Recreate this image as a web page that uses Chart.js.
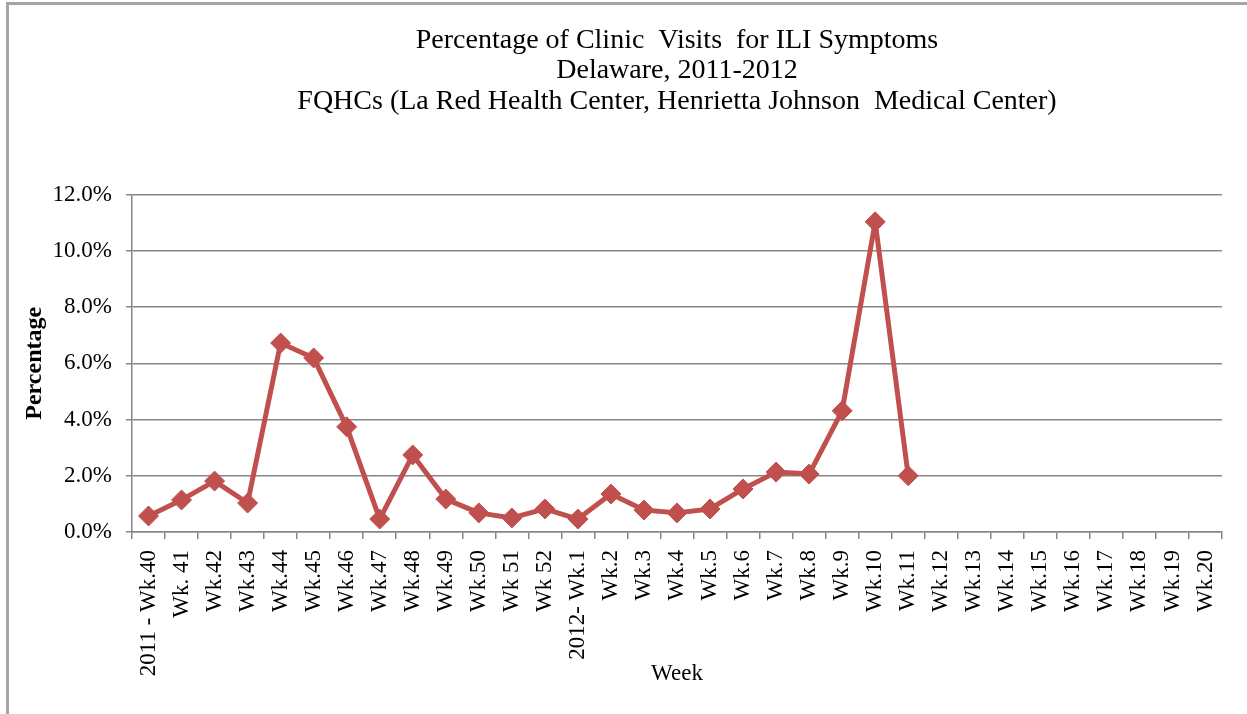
<!DOCTYPE html>
<html>
<head>
<meta charset="utf-8">
<script src="https://cdn.jsdelivr.net/npm/chart.js@4/dist/chart.umd.min.js"></script>
<style>
  html, body { margin: 0; padding: 0; background: #fff; overflow: hidden; }
  #frame {
    position: absolute; left: 6px; top: 2px; width: 1400px; height: 900px;
    border: 3px solid #a4a4a4; box-sizing: border-box;
  }
  #wrap { position: absolute; left: 0; top: 0; width: 1247px; height: 714px; }
</style>
</head>
<body>
<div id="frame"></div>
<div id="wrap"><canvas id="ili-chart"></canvas></div>
<script>
const weeks = [
  '2011 - Wk.40', 'Wk. 41', 'Wk.42', 'Wk.43', 'Wk.44', 'Wk.45', 'Wk.46', 'Wk.47',
  'Wk.48', 'Wk.49', 'Wk.50', 'Wk 51', 'Wk 52', '2012- Wk.1', 'Wk.2', 'Wk.3',
  'Wk.4', 'Wk.5', 'Wk.6', 'Wk.7', 'Wk.8', 'Wk.9', 'Wk.10', 'Wk.11',
  'Wk.12', 'Wk.13', 'Wk.14', 'Wk.15', 'Wk.16', 'Wk.17', 'Wk.18', 'Wk.19', 'Wk.20'
];

// percent of clinic visits, weeks 12-20 have no data yet
const iliPercent = [
  0.57, 1.14, 1.81, 1.03, 6.72, 6.19, 3.74, 0.46,
  2.74, 1.17, 0.68, 0.50, 0.82, 0.46, 1.35, 0.78,
  0.68, 0.82, 1.53, 2.13, 2.06, 4.31, 11.03, 2.00,
  null, null, null, null, null, null, null, null, null
];

const titleLines = [
  'Percentage of Clinic  Visits  for ILI Symptoms',
  'Delaware, 2011-2012',
  'FQHCs (La Red Health Center, Henrietta Johnson  Medical Center)'
];

const yTicks = { min: 0, max: 12, step: 2 };

const serif = "'Liberation Serif', 'Times New Roman', serif";
const gridGray = '#868686';
const lineRed = '#c0504d';

const ctx = document.getElementById('ili-chart').getContext('2d');

new Chart(ctx, {
  type: 'line',
  data: {
    labels: weeks,
    datasets: [
      {
        label: 'ILI %',
        data: iliPercent,
        borderColor: lineRed,
        backgroundColor: lineRed,
        borderWidth: 5,
        borderJoinStyle: 'round',
        pointStyle: 'rectRot',
        pointRadius: 10,
        pointBorderWidth: 1,
        pointBackgroundColor: lineRed,
        pointBorderColor: lineRed,
        tension: 0,
        spanGaps: false
      }
    ]
  },
  options: {
    responsive: true,
    maintainAspectRatio: false,
    animation: false,
    layout: { padding: { left: 10, right: 25, top: 0, bottom: 24 } },
    plugins: {
      legend: { display: false },
      tooltip: { enabled: false },
      title: {
        display: true,
        fullSize: false,
        text: titleLines,
        color: '#000',
        font: { family: serif, size: 28, weight: 'normal', lineHeight: 1.09 },
        padding: { top: 25, bottom: 78 }
      }
    },
    scales: {
      x: {
        offset: true,
        afterFit: (scale) => { scale.height = 158; },
        grid: {
          offset: true,
          drawOnChartArea: false,
          drawTicks: true,
          tickLength: 7,
          color: gridGray,
          lineWidth: 1.5
        },
        border: { color: gridGray, width: 1.5 },
        ticks: {
          autoSkip: false,
          minRotation: 90,
          maxRotation: 90,
          padding: 11,
          color: '#000',
          font: { family: serif, size: 23 }
        },
        title: {
          display: true,
          text: 'Week',
          color: '#000',
          font: { family: serif, size: 23, weight: 'normal', lineHeight: 1.2 },
          padding: { top: 0, bottom: 2 }
        }
      },
      y: {
        min: yTicks.min,
        max: yTicks.max,
        afterFit: (scale) => { scale.width = 122; },
        grid: {
          color: gridGray,
          lineWidth: 1.5,
          tickLength: 6
        },
        border: { color: gridGray, width: 1.5 },
        ticks: {
          stepSize: yTicks.step,
          padding: 14,
          color: '#000',
          font: { family: serif, size: 23 },
          callback: (v) => v.toFixed(1) + '%'
        },
        title: {
          display: true,
          text: 'Percentage',
          color: '#000',
          font: { family: serif, size: 24, weight: 'bold', lineHeight: 1.2 },
          padding: { top: 10, bottom: 0 }
        }
      }
    }
  }
});
</script>
</body>
</html>
